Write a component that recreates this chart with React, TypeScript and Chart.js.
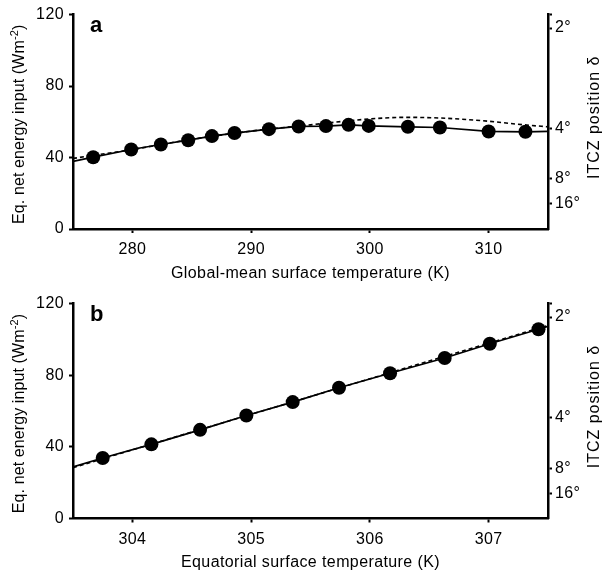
import React, { useEffect, useRef } from 'react';
import { Chart, registerables } from 'chart.js';

Chart.register(...registerables);

const FONT = '"Liberation Sans", Arial, Helvetica, sans-serif';

// ---------- shared axes ----------
const energyTicks = [0, 40, 80, 120];
const itczDegrees = [2, 4, 8, 16];
// ITCZ position scale: energy input E (Wm-2) ~ 225 / delta
const itczConstant = 225;
const leftTitleMain = 'Eq. net energy input (Wm';
const leftTitleSup = '-2';
const leftTitleEnd = ')';
const rightTitle = 'ITCZ position \u03b4';

// ---------- panel a ----------
const aTitle = 'Global-mean surface temperature (K)';
const aXMin = 275;
const aXMax = 315;
const aXTicks = [280, 290, 300, 310];
const aDotTemp = [276.7, 279.9, 282.4, 284.7, 286.7, 288.6, 291.5, 294.0, 296.3, 298.2, 299.9, 303.2, 305.9, 310.0, 313.1];
const aDotEnergy = [40.2, 44.5, 47.3, 49.7, 52.0, 53.7, 55.9, 57.4, 57.6, 58.3, 57.7, 57.2, 56.8, 54.6, 54.4];
const aSolidEndTemp = [275, 315];
const aSolidEndEnergy = [37.8, 54.6];
const aDashTemp = [275, 280, 285, 290, 295, 300, 303, 306, 310, 313, 315];
const aDashEnergy = [39.5, 44.5, 50.2, 54.8, 58.3, 61.6, 62.5, 62.1, 60.3, 58.3, 57.2];

// ---------- panel b ----------
const bTitle = 'Equatorial surface temperature (K)';
const bXMin = 303.5;
const bXMax = 307.5;
const bXTicks = [304, 305, 306, 307];
const bDotTemp = [303.75, 304.16, 304.57, 304.96, 305.35, 305.74, 306.17, 306.63, 307.01, 307.42];
const bDotEnergy = [33.8, 41.4, 49.5, 57.5, 65.0, 73.0, 81.1, 89.6, 97.6, 105.7];
const bSolidEndTemp = [303.5, 307.5];
const bSolidEndEnergy = [28.8, 107.3];
const bDashTemp = [303.5, 307.5];
const bDashEnergy = [28.4, 107.8];

type PanelSpec = {
  label: string;
  title: string;
  xMin: number;
  xMax: number;
  xTicks: number[];
  dotX: number[];
  dotY: number[];
  solidEndX: number[];
  solidEndY: number[];
  dashX: number[];
  dashY: number[];
  padTop: number;
  xHeight: number;
};

const panels: PanelSpec[] = [
  {
    label: 'a', title: aTitle, xMin: aXMin, xMax: aXMax, xTicks: aXTicks,
    dotX: aDotTemp, dotY: aDotEnergy, solidEndX: aSolidEndTemp, solidEndY: aSolidEndEnergy,
    dashX: aDashTemp, dashY: aDashEnergy, padTop: 10, xHeight: 60,
  },
  {
    label: 'b', title: bTitle, xMin: bXMin, xMax: bXMax, xTicks: bXTicks,
    dotX: bDotTemp, dotY: bDotEnergy, solidEndX: bSolidEndTemp, solidEndY: bSolidEndEnergy,
    dashX: bDashTemp, dashY: bDashEnergy, padTop: 11, xHeight: 59.5,
  },
];

const gridOpts = {
  display: true,
  drawOnChartArea: false,
  drawTicks: true,
  tickLength: 4,
  tickWidth: 2,
  tickColor: '#000',
};
const borderOpts = { display: true, color: '#000', width: 2.5 };

function annotatePlugin(label: string) {
  return {
    id: 'annotate_' + label,
    beforeDraw(chart: any) {
      try { chart.ctx.letterSpacing = '0.4px'; } catch (e) { /* ignore */ }
    },
    afterDraw(chart: any) {
      const ctx = chart.ctx;
      const { top, bottom, left } = chart.chartArea;
      const midY = (top + bottom) / 2;
      ctx.save();
      ctx.fillStyle = '#000';
      try { ctx.letterSpacing = '0px'; } catch (e) { /* ignore */ }
      ctx.font = `bold 22px ${FONT}`;
      ctx.textAlign = 'left';
      ctx.textBaseline = 'alphabetic';
      ctx.fillText(label, left + 17, top + 17);

      try { ctx.letterSpacing = '0.1px'; } catch (e) { /* ignore */ }
      const f1 = `16px ${FONT}`;
      const f2 = `11px ${FONT}`;
      ctx.font = f1;
      const w1 = ctx.measureText(leftTitleMain).width;
      const w3 = ctx.measureText(leftTitleEnd).width;
      ctx.font = f2;
      const w2 = ctx.measureText(leftTitleSup).width;
      const total = w1 + w2 + w3;
      ctx.save();
      ctx.translate(24, midY + 2.5);
      ctx.rotate(-Math.PI / 2);
      let x = -total / 2;
      ctx.font = f1;
      ctx.fillText(leftTitleMain, x, 0);
      x += w1;
      ctx.font = f2;
      ctx.fillText(leftTitleSup, x, -6);
      x += w2;
      ctx.font = f1;
      ctx.fillText(leftTitleEnd, x, 0);
      ctx.restore();

      try { ctx.letterSpacing = '1px'; } catch (e) { /* ignore */ }
      ctx.save();
      ctx.translate(599, midY - 4.5);
      ctx.rotate(-Math.PI / 2);
      ctx.font = f1;
      ctx.textAlign = 'center';
      ctx.fillText(rightTitle, 0, 0);
      ctx.restore();

      ctx.restore();
    },
  };
}

function makeConfig(p: PanelSpec): any {
  const dots = p.dotX.map((x, i) => ({ x, y: p.dotY[i] }));
  const solid = [
    { x: p.solidEndX[0], y: p.solidEndY[0] },
    ...dots,
    { x: p.solidEndX[1], y: p.solidEndY[1] },
  ];
  const dash = p.dashX.map((x, i) => ({ x, y: p.dashY[i] }));
  return {
    type: 'scatter',
    data: {
      datasets: [
        {
          data: dots,
          showLine: false,
          pointRadius: 7,
          pointHoverRadius: 7,
          pointBackgroundColor: '#000',
          pointBorderColor: '#000',
          pointBorderWidth: 0,
        },
        {
          data: solid,
          showLine: true,
          borderColor: '#000',
          borderWidth: 1.7,
          pointRadius: 0,
          tension: 0,
        },
        {
          data: dash,
          showLine: true,
          borderColor: '#000',
          borderWidth: 1.6,
          borderDash: [4, 3],
          pointRadius: 0,
          cubicInterpolationMode: 'monotone',
        },
      ],
    },
    options: {
      responsive: false,
      animation: false,
      events: [],
      layout: { padding: { top: p.padTop, left: 0, right: 0, bottom: 0 } },
      plugins: { legend: { display: false }, tooltip: { enabled: false } },
      scales: {
        x: {
          type: 'linear',
          position: 'bottom',
          min: p.xMin,
          max: p.xMax,
          afterBuildTicks: (s: any) => { s.ticks = p.xTicks.map((v) => ({ value: v })); },
          afterFit: (s: any) => { s.height = p.xHeight; },
          grid: gridOpts,
          border: borderOpts,
          ticks: {
            color: '#000',
            font: { family: FONT, size: 16 },
            padding: 7,
            maxRotation: 0,
            autoSkip: false,
            callback: (v: any) => String(v),
          },
          title: {
            display: true,
            text: p.title,
            color: '#000',
            font: { family: FONT, size: 16 },
            padding: { top: 0, bottom: 6 },
          },
        },
        y: {
          type: 'linear',
          position: 'left',
          min: 0,
          max: 120,
          afterBuildTicks: (s: any) => { s.ticks = energyTicks.map((v) => ({ value: v })); },
          afterFit: (s: any) => { s.width = 73; },
          grid: gridOpts,
          border: borderOpts,
          ticks: {
            color: '#000',
            font: { family: FONT, size: 16 },
            padding: 5,
            callback: (v: any) => String(v),
          },
        },
        y2: {
          type: 'linear',
          position: 'right',
          min: 0,
          max: 120,
          afterBuildTicks: (s: any) => {
            s.ticks = [...itczDegrees.map((d) => ({ value: itczConstant / d })), { value: 120 }];
          },
          afterFit: (s: any) => { s.width = 59; },
          grid: gridOpts,
          border: borderOpts,
          ticks: {
            color: '#000',
            font: { family: FONT, size: 16 },
            padding: 3,
            callback: (_v: any, i: number) => (i < itczDegrees.length ? itczDegrees[i] + '\u00b0' : ''),
          },
        },
      },
    },
    plugins: [annotatePlugin(p.label)],
  };
}

function Panel({ spec }: { spec: PanelSpec }) {
  const ref = useRef<HTMLCanvasElement | null>(null);
  useEffect(() => {
    if (!ref.current) return;
    const chart = new Chart(ref.current, makeConfig(spec));
    return () => chart.destroy();
  }, [spec]);
  return (
    <canvas
      ref={ref}
      width={607}
      height={289}
      style={{ display: 'block', width: 607, height: 289 }}
    />
  );
}

export default function App() {
  return (
    <div style={{ position: 'absolute', left: 0, top: 0, width: 607, height: 578, background: '#fff' }}>
      {panels.map((p) => (
        <Panel key={p.label} spec={p} />
      ))}
    </div>
  );
}
